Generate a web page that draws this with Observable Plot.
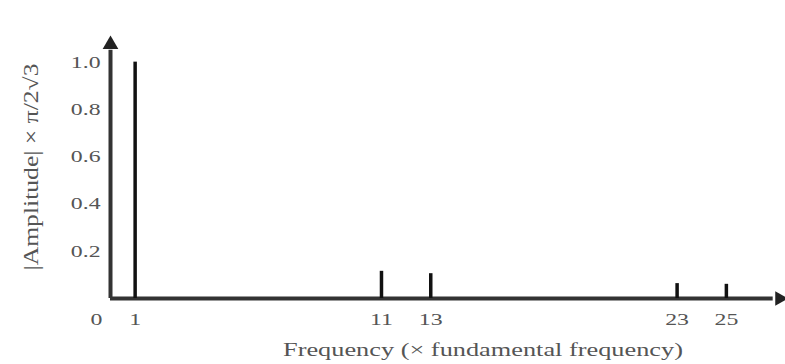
<!DOCTYPE html>
<html><head><meta charset="utf-8">
<script src="https://cdn.jsdelivr.net/npm/d3@7"></script>
<script src="https://cdn.jsdelivr.net/npm/@observablehq/plot@0.6"></script>
<style>body{margin:0;background:#fff}</style>
</head><body><div id="chart"></div>
<script>
const harmonics = [1, 11, 13, 23, 25];
const amplitudes = [1.0, 0.115, 0.105, 0.063, 0.06];
const yTicks = [0.2, 0.4, 0.6, 0.8, 1.0];
const xTicks = [1, 11, 13, 23, 25];
const xAxisEnd = 27.4;
const yAxisEnd = 1.1;
const xLabel = "Frequency (× fundamental frequency)";
const yLabel = "|Amplitude| × π/2√3";

const bars = harmonics.map((h, i) => ({h, a: amplitudes[i]}));
const font = "Liberation Serif, DejaVu Serif, serif";

const chart = Plot.plot({
  width: 785, height: 364,
  marginLeft: 110, marginRight: 0, marginTop: 38, marginBottom: 66,
  style: {fontFamily: font, fontSize: "18px", color: "#444", background: "#fff"},
  x: {domain: [0, xAxisEnd], axis: null},
  y: {domain: [0, yAxisEnd], axis: null},
  marks: [
    Plot.ruleY([0], {x1: 0, x2: xAxisEnd - 0.5, stroke: "#333", strokeWidth: 4}),
    Plot.ruleX([0], {y1: 0, y2: yAxisEnd - 0.05, stroke: "#333", strokeWidth: 4}),
    Plot.dot([{x: xAxisEnd, y: 0}], {x: "x", y: "y", symbol: "triangle2", r: 7, fill: "#222", rotate: 90, dx: -6}),
    Plot.dot([{x: 0, y: yAxisEnd}], {x: "x", y: "y", symbol: "triangle2", r: 7.5, fill: "#222", dy: 6}),
    Plot.ruleX(bars, {x: "h", y1: 0, y2: "a", stroke: "#111", strokeWidth: 3.5}),
    Plot.text(yTicks, {x: 0, y: d => d, text: d => d.toFixed(1), textAnchor: "end", dx: -10, fill: "#555", fontSize: 17}),
    Plot.text(xTicks, {x: d => d, y: 0, text: d => String(d), dy: 21, fill: "#555", fontSize: 17}),
    Plot.text([0], {x: 0, y: 0, text: d => String(d), dx: -14, dy: 21, fill: "#555", fontSize: 17}),
  ]
});
const svg = d3.select(chart);
svg.append("text").attr("x", 483).attr("y", 356).attr("text-anchor", "middle")
  .attr("font-family", font).attr("font-size", 18).attr("fill", "#555").attr("class", "stretch").text(xLabel);
svg.append("text").attr("transform", "translate(38,167) rotate(-90)").attr("text-anchor", "middle")
  .attr("font-family", font).attr("font-size", 20).attr("fill", "#555").attr("textLength", 207)
  .attr("lengthAdjust", "spacingAndGlyphs").text(yLabel);
document.getElementById("chart").append(chart);
// horizontally stretched lettering like the reference
svg.selectAll("g[aria-label=text] text").each(function() {
  const len = this.getComputedTextLength();
  if (len > 0) {
    this.setAttribute("textLength", (len * 1.4).toFixed(1));
    this.setAttribute("lengthAdjust", "spacingAndGlyphs");
  }
});
svg.select("text.stretch").attr("textLength", 400).attr("lengthAdjust", "spacingAndGlyphs");
</script></body></html>
